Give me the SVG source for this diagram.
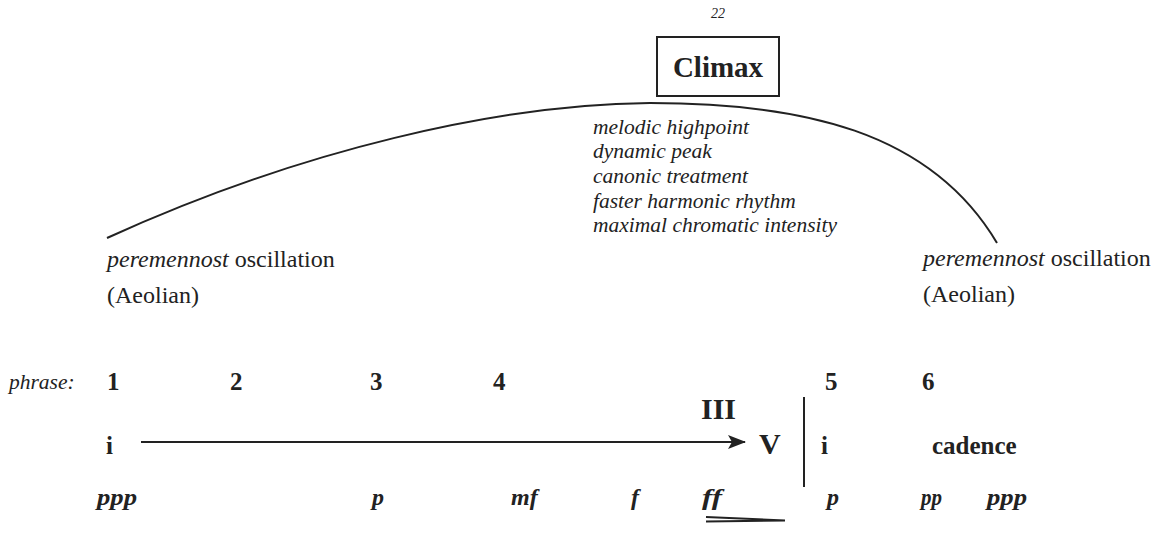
<svg xmlns="http://www.w3.org/2000/svg" width="1160" height="533" viewBox="0 0 1160 533">
<style>
text{font-family:'Liberation Serif','Times New Roman',serif;fill:#222}
.it{font-style:italic;font-size:21.5px}
.lab{font-size:24px}
.b{font-weight:bold;font-size:25px}
.big{font-weight:bold;font-size:30px}
.dyn{font-weight:bold;font-style:italic;font-size:24px}
.ln{stroke:#222;stroke-width:2;fill:none}
</style>
<defs>
<marker id="ah" markerWidth="18" markerHeight="14" refX="17" refY="7" orient="auto" markerUnits="userSpaceOnUse">
<path d="M0,0 L18,7 L0,14 L4,7 Z" fill="#222"/>
</marker>
</defs>
<g id="climax">
<text x="718" y="18" text-anchor="middle" font-style="italic" font-size="14">22</text>
<rect x="657" y="37" width="122" height="59" fill="#fff" stroke="#222" stroke-width="2"/>
<text x="718" y="77" text-anchor="middle" font-weight="bold" font-size="29">Climax</text>
</g>
<g id="features">
<text class="it" x="593" y="134">melodic highpoint</text>
<text class="it" x="593" y="158">dynamic peak</text>
<text class="it" x="593" y="183">canonic treatment</text>
<text class="it" x="593" y="208">faster harmonic rhythm</text>
<text class="it" x="593" y="232">maximal chromatic intensity</text>
</g>
<g id="left-label">
<text class="lab" x="107" y="267"><tspan font-style="italic">peremennost</tspan> oscillation</text>
<text class="lab" x="107" y="303">(Aeolian)</text>
</g>
<g id="right-label">
<text class="lab" x="923" y="266"><tspan font-style="italic">peremennost</tspan> oscillation</text>
<text class="lab" x="923" y="302">(Aeolian)</text>
</g>
<g id="phrases">
<text class="it" x="9" y="389" font-size="26">phrase:</text>
<text class="b" x="107" y="390">1</text>
<text class="b" x="230" y="390">2</text>
<text class="b" x="370" y="390">3</text>
<text class="b" x="493" y="390">4</text>
<text class="b" x="825" y="390">5</text>
<text class="b" x="922" y="390">6</text>
</g>
<g id="harmony">
<text class="b" x="106" y="454">i</text>
<text class="big" x="701" y="419">III</text>
<text class="big" x="759" y="454">V</text>
<text class="b" x="821" y="454">i</text>
<text class="b" x="932" y="454">cadence</text>
</g>
<g id="dynamics">
<text class="dyn" x="97" y="505" textLength="40" lengthAdjust="spacingAndGlyphs">ppp</text>
<text class="dyn" x="372" y="505">p</text>
<text class="dyn" x="511" y="505">mf</text>
<text class="dyn" x="631" y="505">f</text>
<text class="dyn" x="702" y="505" textLength="20" lengthAdjust="spacingAndGlyphs">ff</text>
<text class="dyn" x="827" y="505">p</text>
<text class="dyn" x="921" y="505" textLength="21" lengthAdjust="spacingAndGlyphs">pp</text>
<text class="dyn" x="987" y="505" textLength="40" lengthAdjust="spacingAndGlyphs">ppp</text>
</g>
<g id="connectors">
<path class="ln" d="M107,238 C300,150 500,104 650,103 C800,103 930,130 997,243"/>
<line class="ln" x1="141" y1="442" x2="745" y2="442" marker-end="url(#ah)"/>
<line class="ln" x1="804" y1="397" x2="804" y2="487" stroke-width="1.5"/>
<polyline class="ln" stroke-width="1.2" points="706,517 785,520.5 706,521.5"/>
</g>
</svg>
